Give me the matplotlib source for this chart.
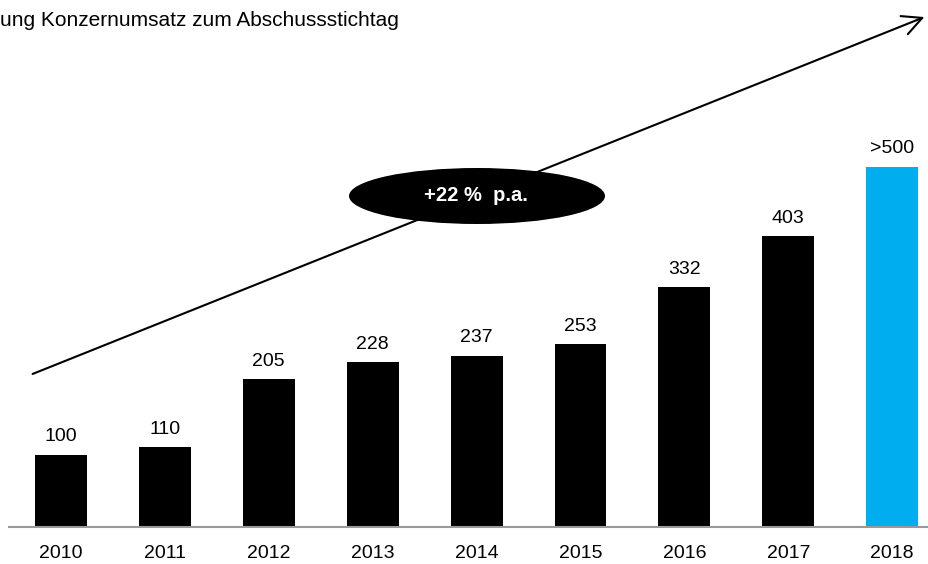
import matplotlib
import matplotlib.pyplot as plt
from matplotlib.patches import Ellipse, FancyArrowPatch

matplotlib.use("Agg")

plt.rcParams['font.family'] = ['Liberation Sans', 'DejaVu Sans']

# Data
years = ["2010", "2011", "2012", "2013", "2014", "2015", "2016", "2017", "2018"]
revenue = [100, 110, 205, 228, 237, 253, 332, 403, 500]
labels = ["100", "110", "205", "228", "237", "253", "332", "403", ">500"]
colors = ["black"] * 8 + ["#00aeef"]

W, H = 929, 564
fig = plt.figure(figsize=(W / 100, H / 100), dpi=100)
ax = fig.add_axes([9 / W, 37.5 / H, 920 / W, 526.5 / H])

x = range(len(years))
ax.bar(x, revenue, width=0.5, color=colors, zorder=2)
for i, (v, lab) in enumerate(zip(revenue, labels)):
    ax.text(i, v + 13, lab, ha="center", va="bottom", fontsize=14)

ax.set_xlim(-0.5, 8.354)
ax.set_ylim(0, 731.25)
for s in ["top", "right", "left"]:
    ax.spines[s].set_visible(False)
ax.spines["bottom"].set_color("#999999")
ax.spines["bottom"].set_linewidth(1.5)
ax.set_yticks([])
ax.set_xticks(list(x))
ax.set_xticklabels(years, fontsize=14)
ax.tick_params(axis="x", length=0, pad=13)

# growth arrow
fig.patches.append(FancyArrowPatch(
    (30 / W, 1 - 375 / H), (927 / W, 1 - 16 / H), transform=fig.transFigure,
    arrowstyle="->,head_length=14,head_width=7", mutation_scale=1, lw=1.5,
    color="black", zorder=3))

ell = Ellipse((477 / W, 1 - 196 / H), 256 / W, 56 / H, transform=fig.transFigure,
              facecolor="black", edgecolor="none", zorder=4)
fig.patches.append(ell)
fig.text(476 / W, 1 - 196 / H, "+22 %  p.a.", color="white", fontsize=14.5,
         fontweight="bold", ha="center", va="center", zorder=5)

fig.text(0, 1 - 21 / H, "ung Konzernumsatz zum Abschussstichtag", fontsize=15,
         ha="left", va="center")

fig.savefig("out.png", dpi=100)
